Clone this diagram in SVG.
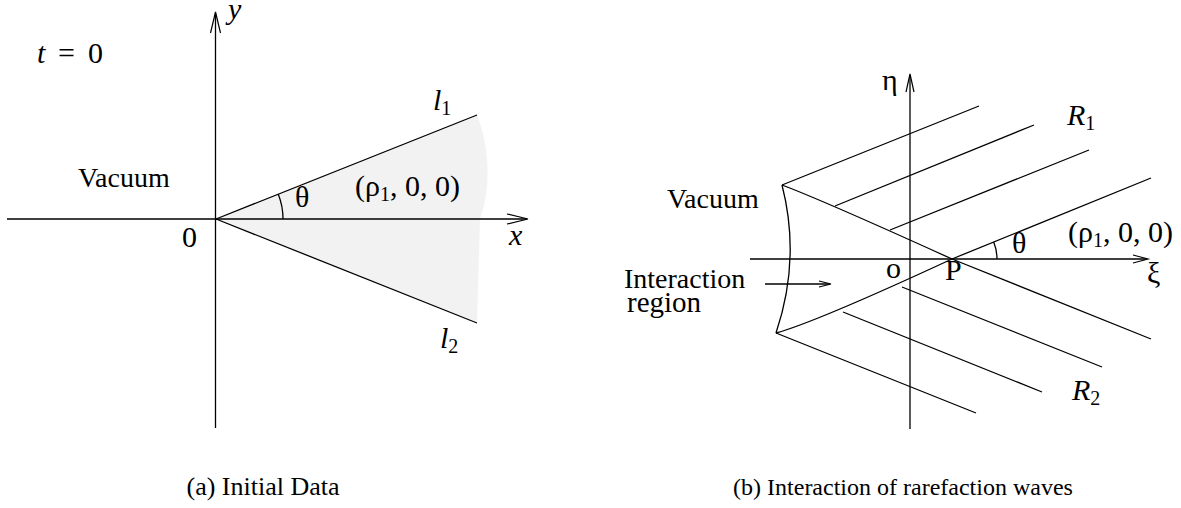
<svg xmlns="http://www.w3.org/2000/svg" width="1181" height="508" viewBox="0 0 1181 508">
<style>
  .ln { fill: none; stroke: #000; stroke-width: 1.3; }
  .ah { fill: none; stroke: #000; stroke-width: 1.2; stroke-linejoin: miter; }
  .t { font-family: "Liberation Serif", "Times New Roman", serif; font-size: 28px; fill: #000; }
  .m { font-size: 30px; }
  .it { font-style: italic; }
  .sub { font-size: 20px; font-style: normal; }
  .cap { font-family: "Liberation Serif", "Times New Roman", serif; font-size: 24px; fill: #000; text-anchor: middle; }
</style>
<rect width="1181" height="508" fill="#fff"/>

<!-- Panel (a) -->
<g id="panel-a">
  <g id="region-a">
    <path d="M216,219 L477,115 C489,145 492,185 480,219 L477,323 Z" fill="#f2f2f2"/>
  </g>
  <g id="connectors-a">
    <line class="ln" x1="7" y1="219" x2="527" y2="219"/>
    <polyline class="ah" points="507,214 528,219 507,224"/>
    <line class="ln" x1="215.5" y1="428" x2="215.5" y2="13"/>
    <polyline class="ah" points="210.5,33 215.5,12 220.5,33"/>
    <line id="l1-line" class="ln" x1="216" y1="219" x2="477" y2="115"/>
    <line id="l2-line" class="ln" x1="216" y1="219" x2="477" y2="323"/>
    <path id="theta-arc-a" class="ln" d="M283,219 A67,67 0 0 0 278.3,194.2"/>
  </g>
  <g id="labels-a">
    <text class="t m" y="63"><tspan class="it" x="37">t</tspan><tspan x="58">=</tspan><tspan x="88">0</tspan></text>
    <text class="t m it" x="228" y="19">y</text>
    <text class="t" x="78" y="187">Vacuum</text>
    <text class="t m" x="295" y="207">θ</text>
    <text class="t m" x="355" y="196">(ρ<tspan class="sub" dy="5">1</tspan><tspan dy="-5">, 0, 0)</tspan></text>
    <text class="t m" x="182" y="247">0</text>
    <text class="t m it" x="509" y="245">x</text>
    <text class="t m" x="433" y="110"><tspan class="it">l</tspan><tspan class="sub" dy="5">1</tspan></text>
    <text class="t m" x="440" y="348"><tspan class="it">l</tspan><tspan class="sub" dy="5">2</tspan></text>
  </g>
  <text id="caption-a" class="cap" style="font-size:26px" x="263" y="495">(a) Initial Data</text>
</g>

<!-- Panel (b) -->
<g id="panel-b">
  <g id="connectors-b">
    <line class="ln" x1="750" y1="259" x2="1147" y2="259"/>
    <polyline class="ah" points="1133,255 1148,259 1133,263"/>
    <line class="ln" x1="910" y1="429" x2="910" y2="75"/>
    <polyline class="ah" points="906,92 910,74 914,92"/>
    <!-- interaction region boundaries -->
    <path id="left-boundary" class="ln" d="M782,185 Q801,259 776,333"/>
    <path id="upper-diagonal" class="ln" d="M782,185 Q822,200 952,259"/>
    <path id="lower-diagonal" class="ln" d="M776,333 Q816,322 952,259"/>
    <!-- R1 family -->
    <line class="ln" x1="782" y1="185" x2="979" y2="106"/>
    <line class="ln" x1="835" y1="206" x2="1034" y2="125"/>
    <line class="ln" x1="890" y1="230" x2="1089" y2="150"/>
    <line class="ln" x1="952" y1="259" x2="1151" y2="178"/>
    <!-- R2 family -->
    <line class="ln" x1="776" y1="333" x2="976" y2="413"/>
    <line class="ln" x1="843" y1="312" x2="1042" y2="392"/>
    <line class="ln" x1="902" y1="287" x2="1102" y2="367"/>
    <line class="ln" x1="952" y1="259" x2="1151" y2="339"/>
    <!-- theta arc -->
    <path id="theta-arc-b" class="ln" d="M997,259 A45,45 0 0 0 993.7,242.1"/>
    <!-- interaction arrow -->
    <line class="ln" x1="765" y1="284" x2="830" y2="284"/>
    <polyline class="ah" points="819,281 831,284 819,287"/>
  </g>
  <g id="labels-b">
    <text class="t m" x="882" y="90">η</text>
    <text class="t m" x="1147" y="283">ξ</text>
    <text class="t m" x="1012" y="253">θ</text>
    <text class="t m" x="1068" y="242">(ρ<tspan class="sub" dy="5">1</tspan><tspan dy="-5">, 0, 0)</tspan></text>
    <text class="t m" x="1067" y="125"><tspan class="it">R</tspan><tspan class="sub" dy="5">1</tspan></text>
    <text class="t m" x="1072" y="400"><tspan class="it">R</tspan><tspan class="sub" dy="5">2</tspan></text>
    <text class="t m" x="945" y="280">P</text>
    <text class="t m" x="886" y="278">o</text>
    <text class="t" x="667" y="208">Vacuum</text>
    <text class="t" x="624" y="288">Interaction</text>
    <text class="t" style="font-size:29px" x="627" y="312">region</text>
  </g>
  <text id="caption-b" class="cap" x="903" y="495">(b) Interaction of rarefaction waves</text>
</g>
</svg>
